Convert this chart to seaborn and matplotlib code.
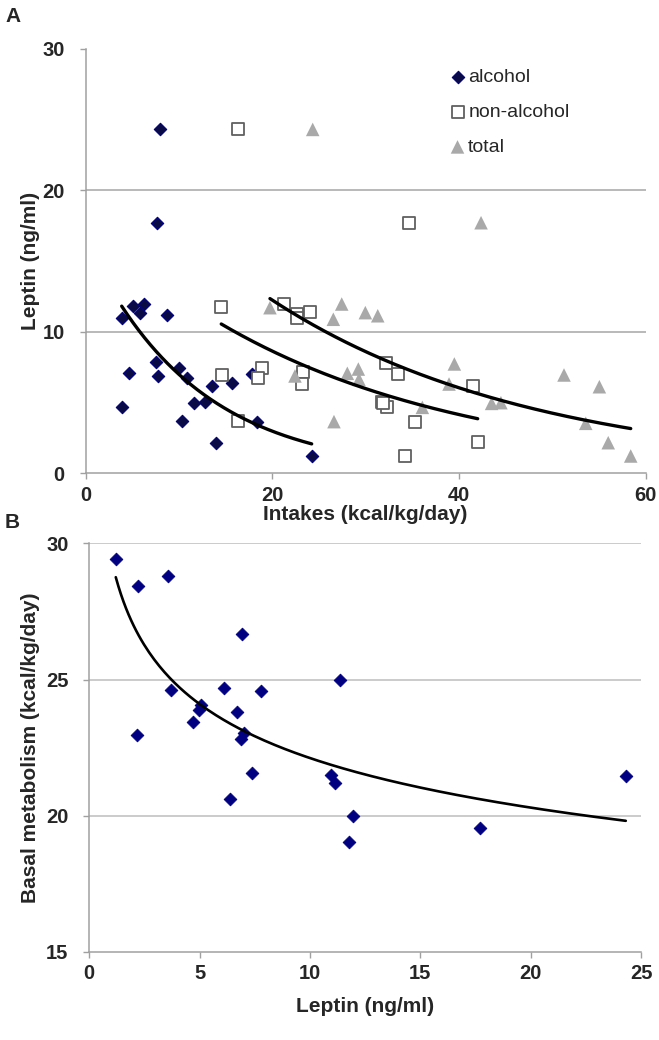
import numpy as np
import pandas as pd
import matplotlib
matplotlib.use("Agg")
import matplotlib.pyplot as plt
import seaborn as sns

# ---------------- data ----------------
alc_intake = [3.86, 5.10, 6.25, 5.85, 8.68, 7.50, 4.64, 7.75, 10.03, 10.82, 13.50,
              15.71, 17.79, 11.64, 12.79, 3.86, 10.29, 18.33, 13.93, 24.22, 7.96, 7.64]
alc_leptin = [10.99, 11.82, 11.96, 11.35, 11.16, 7.83, 7.10, 6.89, 7.41, 6.70, 6.16,
              6.37, 6.99, 4.98, 5.03, 4.70, 3.71, 3.59, 2.15, 1.23, 24.31, 17.71]

non_intake = [14.53, 14.64, 18.93, 18.43, 16.29, 21.29, 22.61, 22.61, 24.04, 23.32, 23.22,
              32.15, 33.44, 31.72, 32.26, 31.86, 35.29, 34.19, 41.55, 42.01, 16.36, 34.70]
non_leptin = [11.77, 6.92, 7.43, 6.70, 3.71, 11.96, 11.25, 10.95, 11.39, 7.13, 6.33,
              7.81, 6.99, 5.03, 4.70, 4.98, 3.59, 1.23, 6.16, 2.18, 24.31, 17.71]

tot_intake = [19.75, 27.44, 26.54, 29.97, 31.30, 22.43, 28.04, 29.22, 29.29, 26.61, 36.08,
              39.51, 38.94, 43.50, 44.50, 51.26, 55.05, 53.59, 56.00, 58.41, 24.33, 42.37]
tot_leptin = [11.70, 11.96, 10.88, 11.35, 11.13, 6.87, 7.06, 7.36, 6.63, 3.64, 4.65,
              7.72, 6.30, 4.93, 4.98, 6.94, 6.11, 3.52, 2.15, 1.21, 24.31, 17.71]

b_leptin = [1.20, 2.19, 3.55, 6.94, 3.68, 6.09, 7.79, 11.37, 5.07, 4.95, 6.70, 4.69,
            2.15, 7.03, 6.88, 7.39, 6.39, 10.95, 11.13, 11.94, 11.75, 17.69, 24.31]
b_basal = [29.41, 28.42, 28.79, 26.67, 24.61, 24.68, 24.58, 25.00, 24.06, 23.88, 23.82, 23.45,
           22.96, 23.03, 22.82, 21.56, 20.61, 21.49, 21.19, 20.00, 19.05, 19.56, 21.47]

series_names = ["alcohol", "non-alcohol", "total"]
a_xticks = [0, 20, 40, 60]
a_yticks = [0, 10, 20, 30]
b_xticks = [0, 5, 10, 15, 20, 25]
b_yticks = [15, 20, 25, 30]

# ---------------- style ----------------
sns.set_theme(style="white")
plt.rcParams["font.family"] = ["Liberation Sans", "DejaVu Sans"]

GRID = "#a6a6a6"
SPINE = "#a0a0a0"

fig = plt.figure(figsize=(6.59, 10.4), dpi=100)
axA = fig.add_axes([0.1300, 0.5451, 0.8496, 0.4078])
axB = fig.add_axes([0.1355, 0.0847, 0.8372, 0.3929])


def exp_fit(x, y):
    x = np.asarray(x); y = np.asarray(y)
    b, ln_a = np.polyfit(x, np.log(y), 1)
    xs = np.linspace(x.min(), x.max(), 200)
    return xs, np.exp(ln_a) * np.exp(b * xs)


def pow_fit(x, y):
    x = np.asarray(x); y = np.asarray(y)
    b, ln_a = np.polyfit(np.log(x), np.log(y), 1)
    xs = np.linspace(x.min(), x.max(), 200)
    return xs, np.exp(ln_a) * xs ** b


# ---------------- Panel A ----------------
dfA = pd.concat([
    pd.DataFrame({"intake": alc_intake, "leptin": alc_leptin, "series": series_names[0]}),
    pd.DataFrame({"intake": non_intake, "leptin": non_leptin, "series": series_names[1]}),
    pd.DataFrame({"intake": tot_intake, "leptin": tot_leptin, "series": series_names[2]}),
])

styles = {
    "alcohol": dict(marker="D", s=40, color="#0a0a45", edgecolor="#000080", linewidth=0.8),
    "non-alcohol": dict(marker="s", s=78, facecolor="white", edgecolor="#606060", linewidth=1.3),
    "total": dict(marker="^", s=95, color="#a9a9a9", edgecolor="none", linewidth=0),
}
for name in series_names:
    sub = dfA[dfA["series"] == name]
    sns.scatterplot(data=sub, x="intake", y="leptin", ax=axA, label=name,
                    zorder=3, **styles[name])

for name in series_names:
    sub = dfA[dfA["series"] == name]
    xs, ys = exp_fit(sub["intake"], sub["leptin"])
    sns.lineplot(x=xs, y=ys, ax=axA, color="black", linewidth=2.4, zorder=4,
                 legend=False, sort=False)

axA.set_xlim(0, 60)
axA.set_ylim(0, 30)
axA.set_xticks(a_xticks)
axA.set_yticks(a_yticks)
for v in [10, 20]:
    axA.axhline(v, color=GRID, linewidth=1.1, zorder=1)
axA.set_xlabel("Intakes (kcal/kg/day)", fontsize=15, fontweight="bold", labelpad=0)
axA.set_ylabel("Leptin (ng/ml)", fontsize=15, fontweight="bold", labelpad=2)

leg = axA.legend(loc="upper left", bbox_to_anchor=(0.619, 0.996), frameon=False,
                 fontsize=14, handlelength=0.8, handletextpad=0.15, labelspacing=0.9,
                 borderpad=0.4, markerscale=1.0)

# ---------------- Panel B ----------------
dfB = pd.DataFrame({"leptin": b_leptin, "basal": b_basal})
sns.scatterplot(data=dfB, x="leptin", y="basal", ax=axB, marker="D", s=42,
                color="#000080", edgecolor="#000080", linewidth=0.6, zorder=3)
xs, ys = pow_fit(dfB["leptin"], dfB["basal"])
sns.lineplot(x=xs, y=ys, ax=axB, color="black", linewidth=1.9, zorder=4, sort=False)

axB.set_xlim(0, 25)
axB.set_ylim(15, 30)
axB.set_xticks(b_xticks)
axB.set_yticks(b_yticks)
for v in [20, 25, 30]:
    axB.axhline(v, color="#bdbdbd", linewidth=1.1, zorder=1)
axB.set_xlabel("Leptin (ng/ml)", fontsize=15, fontweight="bold", labelpad=10)
axB.set_ylabel("Basal metabolism (kcal/kg/day)", fontsize=15, fontweight="bold", labelpad=4)

for ax in [axA, axB]:
    for sp in ["top", "right"]:
        ax.spines[sp].set_visible(False)
    for sp in ["left", "bottom"]:
        ax.spines[sp].set_color(SPINE)
        ax.spines[sp].set_linewidth(1.1)
    ax.tick_params(axis="both", which="major", direction="out", length=4, width=1,
                   color=SPINE, bottom=True, left=True)
    ax.tick_params(axis="y", pad=11)
    ax.tick_params(axis="x", pad=5)
    for lab in ax.get_xticklabels() + ax.get_yticklabels():
        lab.set_fontweight("bold")
        lab.set_fontsize(14.5)
    ax.grid(False)

fig.text(5 / 659, 1 - 7 / 1040, "A", fontsize=15, fontweight="bold", va="top", ha="left")
fig.text(5 / 659, 1 - 513 / 1040, "B", fontsize=15, fontweight="bold", va="top", ha="left")

fig.savefig("out.png", dpi=100)
